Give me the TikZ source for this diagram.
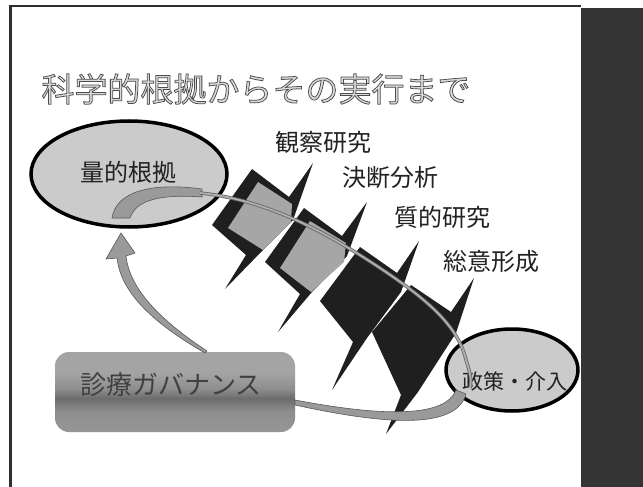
\documentclass[tikz,border=0pt]{standalone}
\usepackage{fontspec}
\setmainfont{Noto Sans CJK JP}
\usetikzlibrary{shapes.geometric}
\definecolor{panel}{HTML}{343434}
\definecolor{framec}{HTML}{2E2E2E}
\definecolor{ellfill}{HTML}{CBCBCB}
\definecolor{innergray}{HTML}{A6A6A6}
\definecolor{arrowgray}{HTML}{9A9A9A}
\definecolor{titlefill}{HTML}{DADADA}
\definecolor{gt}{HTML}{A4A4A4}
\definecolor{gm}{HTML}{8E8E8E}
\definecolor{gd}{HTML}{6C6C6C}
\definecolor{gb}{HTML}{969696}
\definecolor{txt}{HTML}{222222}
\pgfdeclareverticalshading{govshade}{100bp}{color(0bp)=(gb); color(25bp)=(gb); color(38bp)=(gm); color(46bp)=(gd); color(52bp)=(gm); color(62bp)=(gt); color(75bp)=(gt); color(100bp)=(gt)}
\newcommand{\outlinedtext}[1]{\textcolor{titlefill}{\special{pdf:literal direct 0.3 0.3 0.3 RG 0.75 w 2 Tr}#1\special{pdf:literal direct 0 Tr}}}
\begin{document}
\begin{tikzpicture}[x=1pt,y=-1pt,
  titlestyle/.style={font=\fontsize{33}{33}\selectfont, inner sep=0pt},
  labelstyle/.style={font=\fontsize{24}{24}\selectfont, text=txt, inner sep=0pt},
  ellbox/.style={ellipse, draw=black, line width=3.5pt, fill=ellfill, inner sep=0pt},
  chevbody/.style={fill=black!88},
  chevinner/.style={fill=innergray},
  band/.style={fill=arrowgray, draw=black!65, line width=0.6pt},
]
\useasboundingbox (0,0) rectangle (643,487);
\fill[white] (0,0) rectangle (643,487);
% dark side panel and frame
\fill[panel] (581,8) rectangle (643,487);
\draw[framec, line width=2.5pt] (10.5,487) -- (10.5,6) -- (581,6);
% title with outline
\node[titlestyle] (title) at (256,89) {\outlinedtext{科学的根拠からその実行まで}};
% chevrons
\fill[chevbody] (252,169) -- (289,197) -- (313,163) -- (293,220) -- (262,251) -- (225,289) -- (246,255) -- (212,225) -- cycle;
\fill[chevinner] (258,182) -- (292,204) -- (291,222) -- (263,250) -- (228,228) -- cycle;
\fill[chevbody] (304,208) -- (342,236) -- (367,202) -- (347,256) -- (312,292) -- (278,332) -- (300,294) -- (265,262) -- cycle;
\fill[chevinner] (310,221) -- (346,243) -- (344,262) -- (311,292) -- (280,268) -- cycle;
\fill[chevbody] (360,247) -- (397,273) -- (419,241) -- (401,292) -- (367,338) -- (332,390) -- (353,342) -- (320,301) -- cycle;
\fill[chevbody] (411,285) -- (451,312) -- (474,278) -- (456,333) -- (418,392) -- (386,434) -- (401,395) -- (372,332) -- cycle;
% ellipses
\node[ellbox, minimum width=196pt, minimum height=106pt] (q) at (129,174) {};
\node[labelstyle] (qt) at (128,172) {量的根拠};
\node[ellbox, minimum width=132pt, minimum height=82pt] (p) at (512,370) {};
\node[labelstyle, font=\fontsize{21}{21}\selectfont] (pt) at (515,381) {政策・介入};
% governance box
\node[rounded corners=14pt, shading=govshade, minimum width=240pt, minimum height=80pt, inner sep=0pt] (g) at (175,392) {};
\node[labelstyle, font=\fontsize{26}{26}\selectfont, text=black!75] (gt) at (171,385) {診療ガバナンス};
% method labels
\node[labelstyle] (m1) at (323,142) {観察研究};
\node[labelstyle] (m2) at (390,177) {決断分析};
\node[labelstyle] (m3) at (442,217) {質的研究};
\node[labelstyle] (m4) at (491,261) {総意形成};
% connectors
\coordinate (a0) at (200,193);
\coordinate (a1) at (470,388);
\fill[band] (112,218) .. controls (116,192) and (150,182) .. (202,189) -- (202,197) .. controls (160,194) and (136,200) .. (130,218) -- cycle;
\draw[black!60, line width=3.4pt] (a0) .. controls (270,200) and (330,235) .. (380,268) .. controls (425,298) and (458,325) .. (466,360) .. controls (470,372) and (472,380) .. (a1);
\draw[arrowgray!80!white, line width=1.8pt] (a0) .. controls (270,200) and (330,235) .. (380,268) .. controls (425,298) and (458,325) .. (466,360) .. controls (470,372) and (472,380) .. (a1);
% policy -> governance
\fill[band] (466,394) .. controls (457,426) and (400,428) .. (295,405) -- (295,400) .. controls (390,418) and (446,416) .. (456,390) -- cycle;
% governance -> quantitative evidence
\fill[band] (205,353) .. controls (160,327) and (121,296) .. (117,258) -- (106,259) -- (121,233) -- (135,253) -- (126,256) .. controls (130,292) and (166,324) .. (207,351) -- cycle;
\end{tikzpicture}
\end{document}
